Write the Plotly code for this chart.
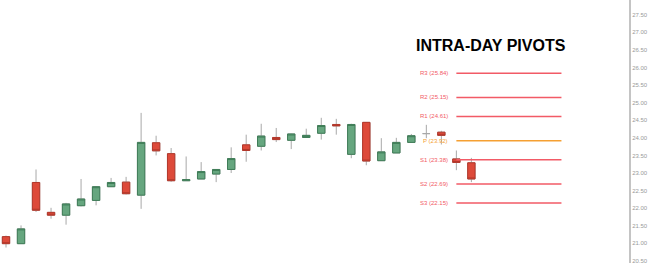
import plotly.graph_objects as go

# --- data ---
idx = list(range(32))
opens  = [21.19, 20.99, 22.73, 21.88, 21.80, 22.07, 22.22, 22.61, 22.74, 22.37,
          23.86, 23.55, 22.78, 22.83, 22.97, 23.10, 23.80, 23.76, 24.01, 23.93,
          24.01, 24.13, 24.38, 23.53, 24.44, 23.35, 23.57, 23.87, 24.12, 24.16,
          23.40, 23.29]
highs  = [21.22, 21.51, 23.10, 22.01, 22.15, 22.83, 22.63, 22.86, 22.89, 24.71,
          24.06, 23.71, 23.47, 23.31, 23.10, 23.73, 24.09, 24.40, 24.28, 24.12,
          24.26, 24.57, 24.54, 24.40, 24.45, 23.99, 24.00, 24.11, 24.37, 24.20,
          23.64, 23.43]
lows   = [20.88, 20.99, 21.89, 21.70, 21.53, 22.05, 22.08, 22.61, 22.39, 21.98,
          23.50, 22.75, 22.78, 22.83, 22.74, 23.00, 23.32, 23.64, 23.88, 23.68,
          24.00, 23.95, 24.09, 23.42, 23.22, 23.35, 23.57, 23.87, 23.99, 23.81,
          23.08, 22.74]
closes = [20.99, 21.41, 21.94, 21.80, 22.12, 22.26, 22.61, 22.73, 22.41, 23.87,
          23.63, 22.78, 22.81, 23.04, 23.10, 23.41, 23.64, 24.05, 23.95, 24.11,
          24.07, 24.35, 24.34, 24.38, 23.34, 23.60, 23.87, 24.06, 24.12, 24.07,
          23.30, 22.83]

pivot_names = ["R3", "R2", "R1", "P", "S1", "S2", "S3"]
pivot_values = [25.84, 25.15, 24.61, 23.92, 23.38, 22.69, 22.15]
pivot_start, pivot_end = 30, 37

title_text = "INTRA-DAY PIVOTS"
y_ticks = [20.5 + 0.5 * k for k in range(15)]

# --- styles ---
GREEN_FILL, GREEN_LINE = "#66a67f", "#3f7d58"
RED_FILL, RED_LINE = "#dd4a3a", "#b3382b"
WICK = "#a8a8a8"
RED_PIVOT, ORANGE_PIVOT = "#f25a66", "#f5a032"

fig = go.Figure()

# wicks (grey) – all candles
fig.add_trace(go.Candlestick(
    x=idx, open=opens, high=highs, low=lows, close=closes,
    increasing=dict(line=dict(color=WICK, width=1), fillcolor="rgba(0,0,0,0)"),
    decreasing=dict(line=dict(color=WICK, width=1), fillcolor="rgba(0,0,0,0)"),
    hoverinfo="skip", showlegend=False,
))

# bodies – candles with a real body (skip doji)
bx, bo, bh, bl, bc = [], [], [], [], []
for i, o, c in zip(idx, opens, closes):
    if o == c:
        continue
    bx.append(i); bo.append(o); bc.append(c)
    bh.append(max(o, c)); bl.append(min(o, c))
fig.add_trace(go.Candlestick(
    x=bx, open=bo, high=bh, low=bl, close=bc,
    increasing=dict(line=dict(color=GREEN_LINE, width=1), fillcolor=GREEN_FILL),
    decreasing=dict(line=dict(color=RED_LINE, width=1), fillcolor=RED_FILL),
    hoverinfo="skip", showlegend=False,
))

# pivot lines + labels
for name, val in zip(pivot_names, pivot_values):
    col = ORANGE_PIVOT if name == "P" else RED_PIVOT
    fig.add_trace(go.Scatter(
        x=[pivot_start, pivot_end], y=[val, val], mode="lines",
        line=dict(color=col, width=1.5), hoverinfo="skip", showlegend=False,
    ))
    fig.add_annotation(
        x=pivot_start - 0.4, y=val, xref="x", yref="y",
        text=f"{name} ({val:.2f})", showarrow=False, xanchor="right",
        font=dict(family="Liberation Sans, Arial", size=6, color=col),
    )

fig.add_annotation(
    x=32.3, y=26.62, xref="x", yref="y", text=f"<b>{title_text}</b>",
    showarrow=False, xanchor="center", yanchor="middle",
    font=dict(family="Liberation Sans, Arial", size=16, color="#000000"),
)

fig.update_layout(
    width=650, height=263,
    margin=dict(l=0, r=21, t=0, b=0),
    paper_bgcolor="white", plot_bgcolor="white",
    boxgap=0.3,
    xaxis=dict(range=[-0.4, 41.5], visible=False, rangeslider=dict(visible=False),
               fixedrange=True),
    yaxis=dict(range=[20.44, 27.92], side="right", showgrid=False, zeroline=False,
               showline=True, linecolor="#c4c4c4", linewidth=2,
               tickvals=y_ticks, ticktext=[f"{v:.2f}" for v in y_ticks],
               ticklabeloverflow="allow",
               ticks="", tickfont=dict(family="Liberation Sans, Arial", size=6,
                                       color="#9a9a9a")),
)

fig.write_html("out.html")
